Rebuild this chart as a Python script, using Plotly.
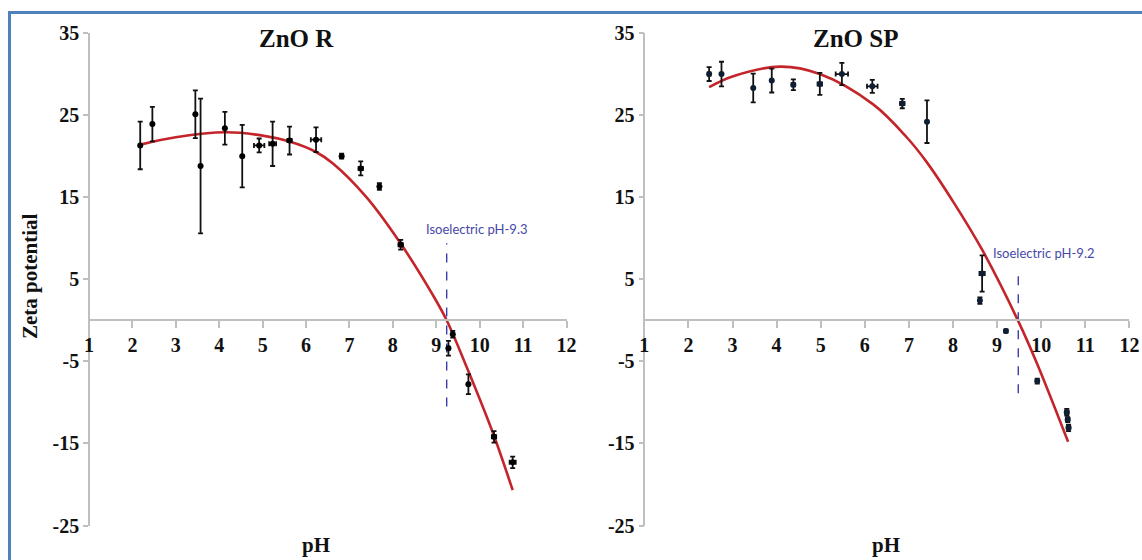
import plotly.graph_objects as go

# ---------------- data ----------------
# ZnO R measurements
r_ph = [2.18, 2.46, 3.45, 3.57, 4.13, 4.53, 4.92, 5.23, 5.62, 6.23, 6.82, 7.26, 7.69, 8.18, 9.38, 9.28, 9.74, 10.33, 10.76]
r_zeta = [21.3, 23.9, 25.1, 18.8, 23.4, 20.0, 21.3, 21.5, 21.9, 22.0, 20.0, 18.5, 16.3, 9.2, -1.7, -3.4, -7.8, -14.2, -17.3]
r_err_y = [2.9, 2.1, 2.9, 8.2, 2.0, 3.8, 0.85, 2.7, 1.7, 1.5, 0.3, 0.85, 0.4, 0.6, 0.4, 0.9, 1.2, 0.7, 0.7]
r_err_x = [0, 0, 0, 0, 0, 0, 0.12, 0.08, 0.05, 0.12, 0, 0.05, 0, 0.05, 0, 0.03, 0, 0.05, 0.07]
# ZnO R trend line
r_fit_ph = [2.18, 3.0, 4.15, 5.0, 5.6, 6.23, 6.62, 7.39, 8.16, 8.93, 9.24, 9.70, 10.31, 10.76]
r_fit_zeta = [21.4, 22.3, 22.9, 22.5, 21.8, 20.5, 19.1, 15.0, 9.5, 3.0, 0.0, -5.7, -13.8, -20.7]
r_iep_x = [9.24, 9.24]
r_iep_y = [-10.5, 9.4]

# ZnO SP measurements
sp_ph = [2.47, 2.75, 3.47, 3.89, 4.38, 4.98, 5.48, 6.17, 6.85, 7.41, 8.66, 8.61, 9.20, 9.91, 10.58, 10.60, 10.62]
sp_zeta = [30.0, 30.0, 28.3, 29.2, 28.7, 28.8, 30.0, 28.5, 26.4, 24.2, 5.7, 2.4, -1.3, -7.4, -11.2, -12.1, -13.1]
sp_err_y = [0.85, 1.5, 1.75, 1.45, 0.65, 1.35, 1.35, 0.8, 0.57, 2.6, 2.2, 0.4, 0.2, 0.3, 0.4, 0.3, 0.4]
sp_err_x = [0.03, 0, 0, 0, 0.04, 0.05, 0.14, 0.12, 0.05, 0, 0.06, 0, 0, 0, 0.04, 0.04, 0.04]
# ZnO SP trend line
sp_fit_ph = [2.47, 3.0, 4.08, 4.98, 6.19, 6.95, 7.40, 8.01, 8.66, 9.48, 9.90, 10.61]
sp_fit_zeta = [28.4, 29.7, 30.9, 30.0, 26.3, 22.3, 19.3, 14.4, 8.6, -0.1, -5.2, -14.8]
sp_iep_x = [9.48, 9.48]
sp_iep_y = [-8.9, 6.3]

y_ticks = [-25, -15, -5, 5, 15, 25, 35]
x_ticks = list(range(1, 13))
titles = ["ZnO R", "ZnO SP"]
iep_labels = ["Isoelectric pH-9.3", "Isoelectric pH-9.2"]

# ---------------- figure ----------------
W, H = 1142, 560
OFF = 0  # page body margin removed below
SERIF = "Liberation Serif, Times New Roman, serif"
AX = "#bfbfbf"
RED = "#c3252b"
BLUE = "#3c3ca8"

def fx(px):
    return (px - OFF) / W

def fy(py):
    return 1 - (py - OFF) / H

fig = go.Figure()

def add_panel(xa, ya, px, py, ex, ey, cx, cy, ix, iy, mcol):
    fig.add_trace(go.Scatter(
        x=cx, y=cy, mode="lines", line=dict(color=RED, width=2.6, shape="spline", smoothing=1.0),
        xaxis=xa, yaxis=ya, showlegend=False, hoverinfo="skip"))
    fig.add_trace(go.Scatter(
        x=ix, y=iy, mode="lines", line=dict(color=BLUE, width=1.4, dash="dash"),
        xaxis=xa, yaxis=ya, showlegend=False, hoverinfo="skip"))
    fig.add_trace(go.Scatter(
        x=px, y=py, mode="markers",
        marker=dict(color=mcol, size=6),
        error_y=dict(type="data", array=ey, visible=True, color="#111111", thickness=1.8, width=2.5),
        error_x=dict(type="data", array=ex, visible=True, color="#111111", thickness=1.8, width=2.5),
        xaxis=xa, yaxis=ya, showlegend=False))

add_panel("x", "y", r_ph, r_zeta, r_err_x, r_err_y, r_fit_ph, r_fit_zeta, r_iep_x, r_iep_y, "#000000")
add_panel("x2", "y2", sp_ph, sp_zeta, sp_err_x, sp_err_y, sp_fit_ph, sp_fit_zeta, sp_iep_x, sp_iep_y, "#0f1f33")

ydom = [fy(525.5), fy(33)]
zero_pos = ydom[0] + (25 / 60) * (ydom[1] - ydom[0])
xdom1 = [fx(89), fx(566.5)]
xdom2 = [fx(644.3), fx(1129.4)]

tickfont = dict(family=SERIF, size=20, color="#111111")

def xaxis_cfg(dom):
    return dict(domain=dom, range=[1, 12], anchor="free", position=zero_pos,
                tickvals=x_ticks, ticktext=["<b>%d</b>" % v for v in x_ticks],
                showline=True, linecolor=AX, linewidth=1.5, ticks="outside", ticklen=7,
                tickcolor=AX, tickwidth=1.5, showgrid=False, zeroline=False,
                tickfont=tickfont, fixedrange=True, automargin=False)

def yaxis_cfg(pos):
    return dict(domain=ydom, range=[-25, 35], anchor="free", position=pos,
                tickvals=y_ticks, ticktext=["<b>%d</b>" % v for v in y_ticks],
                showline=True, linecolor=AX, linewidth=1.5, ticks="outside", ticklen=5,
                tickcolor=AX, tickwidth=1.5, showgrid=False, zeroline=False,
                tickfont=tickfont, fixedrange=True, automargin=False)

fig.update_layout(
    width=W, height=H,
    margin=dict(l=0, r=0, t=0, b=0, pad=0, autoexpand=False),
    paper_bgcolor="white", plot_bgcolor="rgba(0,0,0,0)",
    xaxis=xaxis_cfg(xdom1), yaxis=yaxis_cfg(xdom1[0]),
    xaxis2=xaxis_cfg(xdom2), yaxis2=yaxis_cfg(xdom2[0]),
    showlegend=False,
)

def pa(text, x, y, size, **kw):
    return dict(text=text, x=fx(x), y=fy(y), xref="paper", yref="paper",
                xanchor="center", yanchor="middle", showarrow=False,
                font=dict(family=SERIF, size=size, color="#111111"), **kw)

annotations = [
    pa("<b>%s</b>" % titles[0], 296.5, 39, 25),
    pa("<b>%s</b>" % titles[1], 855, 39, 25),
    pa("<b>Zeta potential</b>", 30, 276, 21, textangle=-90),
    pa("<b>pH</b>", 316, 545, 21),
    pa("<b>pH</b>", 886, 545, 21),
    dict(text=iep_labels[0], x=9.94, y=11.1, xref="x", yref="y", showarrow=False,
         xanchor="center", yanchor="middle",
         font=dict(family="Liberation Sans Narrow, Lato, Liberation Sans, sans-serif", size=13, color="#4848a8")),
    dict(text=iep_labels[1], x=10.07, y=8.2, xref="x2", yref="y2", showarrow=False,
         xanchor="center", yanchor="middle",
         font=dict(family="Liberation Sans Narrow, Lato, Liberation Sans, sans-serif", size=13, color="#4848a8")),
]
fig.update_layout(annotations=annotations)

fig.add_shape(type="rect", xref="paper", yref="paper",
              x0=fx(9.5), x1=1.05, y0=-0.05, y1=fy(12.5),
              line=dict(color="#4f81bd", width=3), fillcolor="rgba(0,0,0,0)", layer="above")

# remove the page margin and scrollbars so the figure fills the window exactly
fig.write_html(
    "out.html",
    config={"displayModeBar": False},
    post_script=("document.documentElement.style.overflow='hidden';"
                 "document.body.style.margin='0';document.body.style.overflow='hidden';"),
)
